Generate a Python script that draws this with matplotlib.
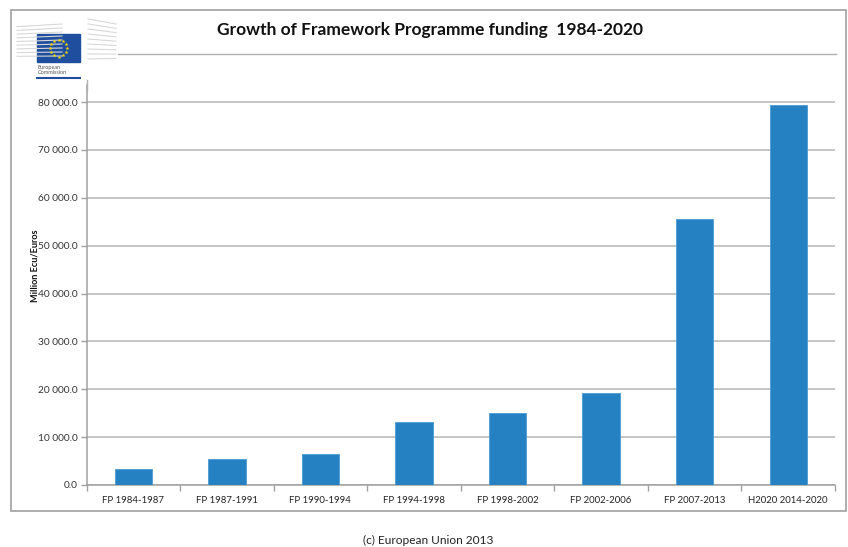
import matplotlib
matplotlib.use("Agg")
import matplotlib.pyplot as plt
from matplotlib.patches import Rectangle
from matplotlib.lines import Line2D
import numpy as np

categories = ["FP 1984-1987", "FP 1987-1991", "FP 1990-1994", "FP 1994-1998",
              "FP 1998-2002", "FP 2002-2006", "FP 2007-2013", "H2020 2014-2020"]
funding = [3271, 5357, 6552, 13215, 14960, 19256, 55606, 79402]
yticks = [0, 10000, 20000, 30000, 40000, 50000, 60000, 70000, 80000]
ytick_labels = ["0.0", "10 000.0", "20 000.0", "30 000.0", "40 000.0",
                "50 000.0", "60 000.0", "70 000.0", "80 000.0"]

W, H = 848, 547
plt.rcParams['font.family'] = ['Lato', 'DejaVu Sans']
fig = plt.figure(figsize=(W / 100, H / 100), dpi=100)

def fx(px):
    return px / W

def fy(py):
    return 1 - py / H

# outer frame
fig.patches.append(Rectangle((fx(11), fy(511)), fx(846) - fx(11), fy(10) - fy(511),
                             transform=fig.transFigure, fill=False,
                             edgecolor="#a0a0a0", linewidth=1.2))

ax_left, ax_right = 86.5, 835
ax = fig.add_axes([fx(ax_left), fy(485), fx(ax_right) - fx(ax_left), fy(85) - fy(485)])
x = np.arange(len(categories))
ax.bar(x, funding, width=0.4, color="#2681c2", edgecolor="#4a9bd4", linewidth=0.6, zorder=3)
ax.set_xlim(-0.5, len(categories) - 0.5)
ax.set_ylim(0, 80000 * (485 - 85) / (485 - 102))
ax.set_yticks(yticks)
ax.set_yticklabels(ytick_labels, fontsize=7.3, color="#333333")
ax.set_xticks(x)
ax.set_xticklabels(categories, fontsize=6.9, color="#222222")
ax.xaxis.set_minor_locator(matplotlib.ticker.FixedLocator(np.arange(-0.5, len(categories), 1)))
ax.tick_params(axis="x", which="major", length=0, pad=8)
ax.tick_params(axis="x", which="minor", length=4, color="#a0a0a0", width=1)
ax.tick_params(axis="y", length=4, color="#a0a0a0", width=1, pad=2.5)
ax.grid(axis="y", color="#b5b5b5", linewidth=1.1, zorder=0)
for s in ["top", "right"]:
    ax.spines[s].set_visible(False)
for s in ["left", "bottom"]:
    ax.spines[s].set_color("#a0a0a0")
    ax.spines[s].set_linewidth(1.1)
ax.set_ylabel("Million Ecu/Euros", fontsize=6.6, fontweight="bold", color="#111111")
ax.yaxis.set_label_coords((39 - ax_left) / (ax_right - ax_left), (485 - 266) / 400)

fig.text(fx(430), fy(30), "Growth of Framework Programme funding  1984-2020",
         ha="center", va="center", fontsize=12.5, fontweight="bold", color="#111111")
fig.text(fx(428), fy(540), "(c) European Union 2013", ha="center", va="center",
         fontsize=8.6, color="#222222")

# logo approximation
for i in range(9):
    yy = 24 + i * 4
    fig.add_artist(Line2D([fx(17), fx(62)], [fy(yy + (9 - i) * 0.3), fy(yy)],
                          transform=fig.transFigure, color="#d8d8d8", linewidth=0.8))
    fig.add_artist(Line2D([fx(88), fx(116)], [fy(19 + i * 5), fy(24 + i * 4.3)],
                          transform=fig.transFigure, color="#d8d8d8", linewidth=0.8))
fig.add_artist(Line2D([fx(118), fx(836)], [fy(54), fy(54)], transform=fig.transFigure,
                      color="#b0b0b0", linewidth=1.0))
fig.add_artist(Line2D([fx(87), fx(87)], [fy(80), fy(90)], transform=fig.transFigure,
                      color="#b0b0b0", linewidth=1.0))
fig.patches.append(Rectangle((fx(37), fy(62)), fx(80) - fx(37), fy(34) - fy(62),
                             transform=fig.transFigure, color="#1f4e9e"))
cx, cy, r = 58.5, 48, 8.5
ang = 2 * np.pi * np.arange(12) / 12
fig.add_artist(Line2D(fx(cx + r * np.cos(ang)), fy(cy + r * np.sin(ang)),
                      transform=fig.transFigure, linestyle="none", marker="*",
                      markersize=3, color="#f5d800", markeredgewidth=0))
fig.text(fx(38), fy(67), "European", fontsize=4, color="#555555", va="center")
fig.text(fx(38), fy(72.5), "Commission", fontsize=4, color="#555555", va="center")
fig.add_artist(Line2D([fx(37), fx(80)], [fy(78), fy(78)], transform=fig.transFigure,
                      color="#1f4e9e", linewidth=1.5))

fig.savefig("out.png", dpi=100)
